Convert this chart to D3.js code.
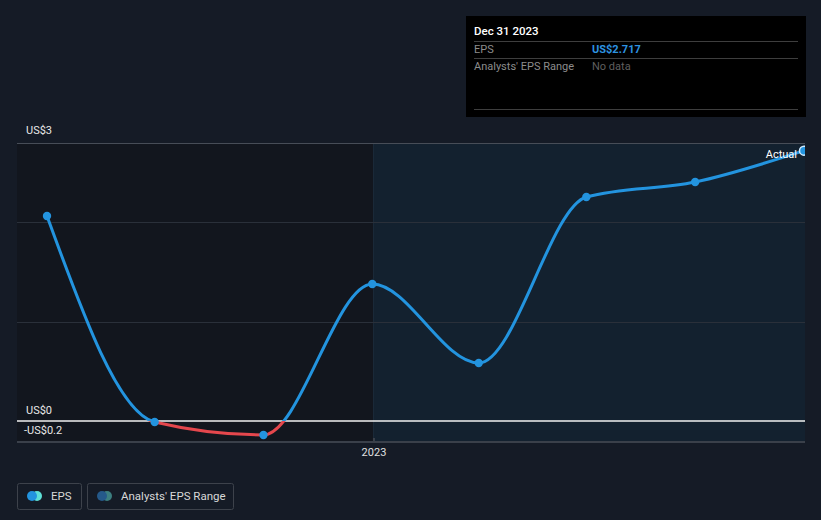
<!DOCTYPE html>
<html><head><meta charset="utf-8">
<script src="https://cdn.jsdelivr.net/npm/d3@7"></script>
<style>
html,body{margin:0;padding:0;background:#151b26;}
svg{display:block;font-family:Roboto,"Open Sans",sans-serif;}
</style></head>
<body><svg id="c" width="821" height="520"></svg>
<script>
const dates = ["2022-03-31","2022-06-30","2022-09-30","2022-12-31","2023-03-31","2023-06-30","2023-09-30","2023-12-31"];
const eps = [2.06, -0.01, -0.14, 1.377, 0.583, 2.251, 2.402, 2.717];
const yDomain = [-0.211, 2.794];
const yTickValues = [2.794, 0, -0.211];
const yTickLabels = ["US$3", "US$0", "-US$0.2"];
const gridValues = [1, 2];
const xTickDates = ["2023-01-01"];
const xTickLabels = ["2023"];
const shadeStart = "2023-01-01";
const legendLabels = ["EPS", "Analysts' EPS Range"];

const parse = d3.utcParse("%Y-%m-%d");
const data = dates.map((d,i)=>({date:parse(d), v:eps[i]}));
const svg = d3.select("#c");
const L=17, R=805, T=143, B=442;
const x = d3.scaleUtc().domain([parse(dates[0]), parse(dates[dates.length-1])]).range([47, 804]);
const y = d3.scaleLinear().domain(yDomain).range([B, T]);

// plot backgrounds
svg.append("rect").attr("x",L).attr("y",T).attr("width",R-L).attr("height",B-T).attr("fill","#12161e");
const xs = x(parse(shadeStart));
svg.append("rect").attr("x",xs).attr("y",T).attr("width",R-xs).attr("height",B-T).attr("fill","#13212f");
svg.append("line").attr("x1",xs).attr("x2",xs).attr("y1",T).attr("y2",B).attr("stroke","#1c2a3a").attr("stroke-width",1);

// grid
svg.selectAll(".grid").data(gridValues).join("line")
  .attr("x1",L).attr("x2",R).attr("y1",d=>Math.round(y(d))+0.5).attr("y2",d=>Math.round(y(d))+0.5)
  .attr("stroke","#2a303a").attr("stroke-width",1);
svg.append("line").attr("x1",L).attr("x2",R).attr("y1",T+0.5).attr("y2",T+0.5).attr("stroke","#474d57").attr("stroke-width",1);

// x axis
const xAxis = d3.axisBottom(x).tickValues(xTickDates.map(parse)).tickFormat((d,i)=>xTickLabels[i]).tickSize(5).tickPadding(5);
const gx = svg.append("g").attr("transform",`translate(0,${B-4})`).call(xAxis);
gx.select(".domain").remove();
gx.selectAll(".tick line").attr("stroke","#3a404a").attr("stroke-width",2);
gx.selectAll(".tick text").attr("fill","#e0e0e0").attr("font-size",11).attr("font-family","Roboto");
svg.append("line").attr("x1",L).attr("x2",R).attr("y1",B).attr("y2",B).attr("stroke","#3a404a").attr("stroke-width",2);

// zero line
svg.append("line").attr("x1",L).attr("x2",R).attr("y1",y(0)).attr("y2",y(0)).attr("stroke","#f2f2f2").attr("stroke-width",1.3);

// y labels
svg.selectAll(".ylab").data(yTickValues).join("text")
  .attr("x",(d,i)=>i===2?24:26)
  .attr("y",(d,i)=>i===2?y(d)-8:(i===1?y(d)-7:y(d)-9))
  .attr("fill","#e8e8e8").attr("font-size",11).text((d,i)=>yTickLabels[i]);

// line
const line = d3.line().x(d=>x(d.date)).y(d=>y(d.v)).curve(d3.curveMonotoneX);
const defs = svg.append("defs");
defs.append("clipPath").attr("id","above").append("rect").attr("x",L).attr("y",0).attr("width",R-L).attr("height",y(0));
defs.append("clipPath").attr("id","below").append("rect").attr("x",L).attr("y",y(0)).attr("width",R-L).attr("height",520);
defs.append("clipPath").attr("id","plot").append("rect").attr("x",0).attr("y",0).attr("width",R).attr("height",520);
svg.append("path").datum(data).attr("d",line).attr("fill","none").attr("stroke","#2394df").attr("stroke-width",3).attr("clip-path","url(#above)");
svg.append("path").datum(data).attr("d",line).attr("fill","none").attr("stroke","#e5474d").attr("stroke-width",3).attr("clip-path","url(#below)");

const gd = svg.append("g").attr("clip-path","url(#plot)");
gd.selectAll("circle").data(data.slice(0,-1)).join("circle")
  .attr("cx",d=>x(d.date)).attr("cy",d=>y(d.v)).attr("r",4.2).attr("fill","#2394df");
const last = data[data.length-1];
gd.append("circle").attr("cx",x(last.date)).attr("cy",y(last.v)).attr("r",4.5)
  .attr("fill","#2394df").attr("stroke","#cfeaff").attr("stroke-width",1.5);
svg.append("text").attr("x",797).attr("y",y(last.v)+7).attr("text-anchor","end")
  .attr("fill","#ffffff").attr("font-size",11).text("Actual");

// tooltip
const tt = svg.append("g");
tt.append("rect").attr("x",466).attr("y",16).attr("width",340).attr("height",101).attr("fill","#000");
tt.append("text").attr("x",474).attr("y",35).attr("fill","#fff").attr("font-size",11.5).attr("font-weight",500).text("Dec 31 2023");
[41.5,58.5,109.5].forEach(yy=>tt.append("line").attr("x1",474).attr("x2",798).attr("y1",yy).attr("y2",yy).attr("stroke","#3e3e3e"));
tt.append("text").attr("x",474).attr("y",53).attr("fill","#8c8c8c").attr("font-size",11).text("EPS");
tt.append("text").attr("x",592).attr("y",53).attr("fill","#2d93e0").attr("font-size",11).attr("font-weight",700).text("US$" + last.v.toFixed(3));
tt.append("text").attr("x",474).attr("y",70).attr("fill","#8c8c8c").attr("font-size",11).text("Analysts' EPS Range");
tt.append("text").attr("x",592).attr("y",70).attr("fill","#5f5f5f").attr("font-size",11).text("No data");

// legend
const lg = svg.append("g");
const boxes = [{x:17,w:64,c1:"#2394df",c2:"#5ee0d6"},{x:87,w:146,c1:"#25598a",c2:"#3c7f80"}];
boxes.forEach((b,i)=>{
  lg.append("rect").attr("x",b.x+0.5).attr("y",483.5).attr("width",b.w).attr("height",26).attr("rx",2)
    .attr("fill","none").attr("stroke","#3d424b");
  lg.append("circle").attr("cx",b.x+20).attr("cy",496).attr("r",5).attr("fill",b.c2);
  lg.append("circle").attr("cx",b.x+15).attr("cy",496).attr("r",5).attr("fill",b.c1);
  lg.append("text").attr("x",b.x+34).attr("y",500).attr("fill","#d8d8d8").attr("font-size",11.5).text(legendLabels[i]);
});
</script></body></html>
